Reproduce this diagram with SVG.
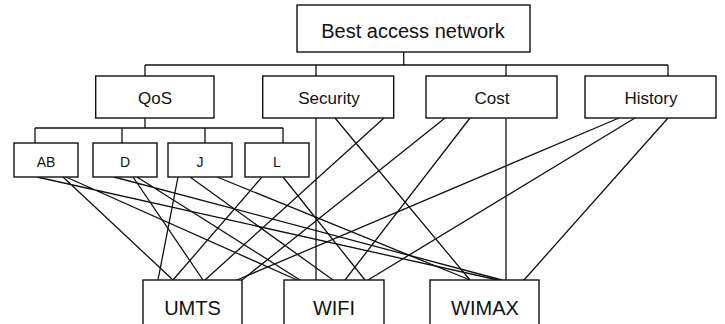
<svg xmlns="http://www.w3.org/2000/svg" width="725" height="324" viewBox="0 0 725 324">
<style>
.box{fill:#fff;stroke:#111;stroke-width:1.4}
.t{font-family:"Liberation Sans","Open Sans",Arial,sans-serif;fill:#111;text-anchor:middle}
.c{stroke:#111;stroke-width:1.3;fill:none}
</style>
<rect width="725" height="324" fill="#fff"/>
<g id="connectors">
<path class="c" d="M403.7,52V65M145,65H668M145,65V76M316,65V76M506,65V76M668,65V76"/>
<path class="c" d="M145,118V128M35,128H283M35,128V143M122,128V143M205,128V143M283,128V143"/>
<path class="c" d="M316,118L316,280M335,118L470,280M384,118L205,280"/>
<path class="c" d="M506,118L506,280M445,118L242,280M470,118L345,280"/>
<path class="c" d="M619,118L237,280M635,118L368,280M668,118L524,280"/>
<path class="c" d="M37,177L498,280M63,177L173,280M66,177L297,280"/>
<path class="c" d="M114,177L502,280M133,177L203,280M137,177L300,280"/>
<path class="c" d="M178,177L158,280M190,177L333,280M217,177L470,280"/>
<path class="c" d="M262,177L173,280M283,177L365,280"/>
</g>
<g id="best"><rect class="box" x="297" y="5" width="233" height="47"/><text class="t" x="413" y="38" font-size="20">Best access network</text></g>
<g id="qos"><rect class="box" x="95.7" y="76" width="118.3" height="42"/><text class="t" x="155" y="104" font-size="17">QoS</text></g>
<g id="security"><rect class="box" x="262.7" y="76" width="131" height="42"/><text class="t" x="329" y="104" font-size="17">Security</text></g>
<g id="cost"><rect class="box" x="426" y="76" width="131" height="42"/><text class="t" x="492" y="104" font-size="17">Cost</text></g>
<g id="history"><rect class="box" x="585" y="76" width="131" height="42"/><text class="t" x="651" y="104" font-size="17">History</text></g>
<g id="ab"><rect class="box" x="14" y="143" width="64" height="34"/><text class="t" x="46" y="167" font-size="14">AB</text></g>
<g id="d"><rect class="box" x="93" y="143" width="64" height="34"/><text class="t" x="125" y="167" font-size="14">D</text></g>
<g id="j"><rect class="box" x="168" y="143" width="64" height="34"/><text class="t" x="200" y="167" font-size="14">J</text></g>
<g id="l"><rect class="box" x="245" y="143" width="64" height="34"/><text class="t" x="277" y="167" font-size="14">L</text></g>
<g id="umts"><rect class="box" x="143" y="280" width="99" height="50"/><text class="t" x="192.5" y="315" font-size="20">UMTS</text></g>
<g id="wifi"><rect class="box" x="284" y="280" width="100" height="50"/><text class="t" x="334" y="315" font-size="20">WIFI</text></g>
<g id="wimax"><rect class="box" x="430" y="280" width="109" height="50"/><text class="t" x="485" y="315" font-size="20">WIMAX</text></g>
</svg>
